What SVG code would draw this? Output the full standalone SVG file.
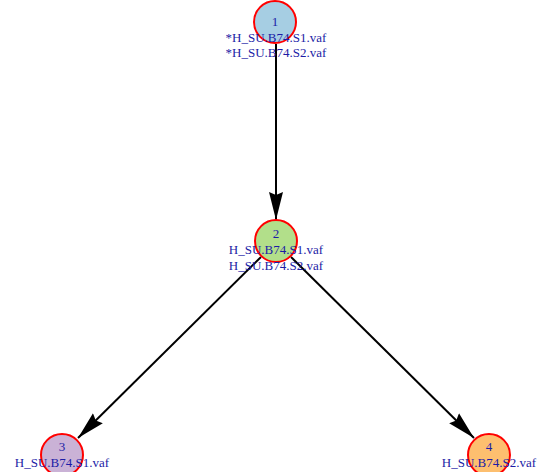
<svg xmlns="http://www.w3.org/2000/svg" width="539" height="472" viewBox="0 0 539 472">
<style>
.n{stroke:#ff0000;stroke-width:2}
.t{font-family:"Liberation Serif",serif;font-size:13px;fill:#1c1ca6;text-anchor:middle}
.e{stroke:#000;stroke-width:2;fill:none}
</style>
<defs>
<marker id="a" markerWidth="30" markerHeight="16" refX="28" refY="8" orient="auto" markerUnits="userSpaceOnUse">
<path d="M0,1 L28,8 L0,15 L3,8 Z" fill="#000"/>
</marker>
</defs>
<rect width="539" height="472" fill="#fff"/>
<g id="edges">
<line class="e" x1="276" y1="44" x2="276" y2="220" marker-end="url(#a)"/>
<line class="e" x1="261" y1="257" x2="78" y2="438" marker-end="url(#a)"/>
<line class="e" x1="291" y1="257" x2="474" y2="438" marker-end="url(#a)"/>
</g>
<g id="node1">
<circle class="n" cx="275" cy="22" r="21" fill="#a6cee3"/>
<text class="t" x="275" y="26">1</text>
<text class="t" x="276" y="42">*H_SU.B74.S1.vaf</text>
<text class="t" x="276" y="57">*H_SU.B74.S2.vaf</text>
</g>
<g id="node2">
<circle class="n" cx="276" cy="241" r="21" fill="#b2df8a"/>
<text class="t" x="276" y="238">2</text>
<text class="t" x="276" y="254">H_SU.B74.S1.vaf</text>
<text class="t" x="276" y="270">H_SU.B74.S2.vaf</text>
</g>
<g id="node3">
<circle class="n" cx="62" cy="455" r="21" fill="#cab2d6"/>
<text class="t" x="62" y="451">3</text>
<text class="t" x="62" y="467">H_SU.B74.S1.vaf</text>
</g>
<g id="node4">
<circle class="n" cx="489" cy="455" r="21" fill="#fdbf6f"/>
<text class="t" x="489" y="451">4</text>
<text class="t" x="489" y="467">H_SU.B74.S2.vaf</text>
</g>
</svg>
